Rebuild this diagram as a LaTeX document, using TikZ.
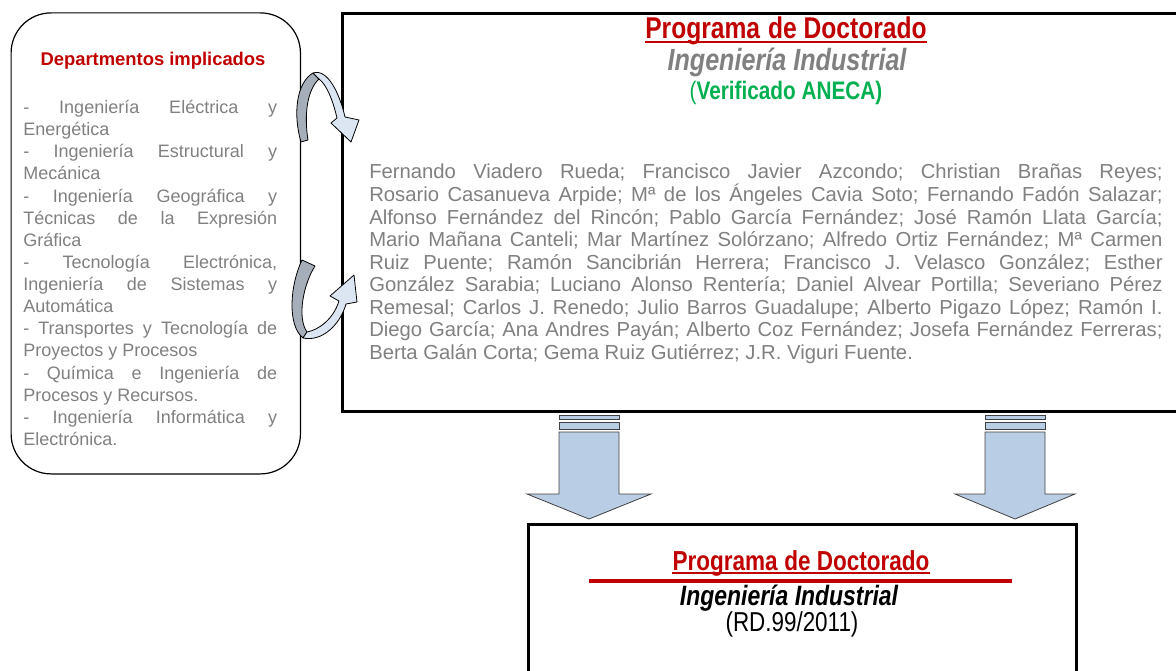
\documentclass[tikz,border=0pt]{standalone}
\usepackage{fontspec}
\setmainfont{Liberation Sans}
\newfontfamily\narrowfont[FakeStretch=0.82]{Liberation Sans}
\definecolor{titlered}{HTML}{C00000}
\definecolor{anecagreen}{HTML}{00B050}
\definecolor{textgray}{HTML}{808080}
\definecolor{arrowblue}{HTML}{B9CDE5}
\definecolor{curvefront}{HTML}{DCE6F2}
\definecolor{curveback}{HTML}{A6AEB9}
\tikzset{
  deptbox/.style={draw, line width=0.9pt, rounded corners=30pt, anchor=north west, minimum width=217pt, minimum height=345.75pt},
  mainbox/.style={draw, line width=2.4pt, anchor=north west},
  ntitle/.style={inner sep=0pt, font={\narrowfont\bfseries\fontsize{#1}{#1}\selectfont}},
  blockarrow/.style={draw=black!75, line width=0.6pt, fill=arrowblue},
  curvearrow/.style={draw=black, line width=0.6pt, line join=round},
}
\begin{document}
\begin{tikzpicture}[x=0.75pt, y=-0.75pt]
  \path[use as bounding box] (0,0) rectangle (1176,670);
  \clip (0,0) rectangle (1176,670);
  % boxes
  \node[deptbox] (dept) at (10.5,12.3) {};
  \node[mainbox, minimum width=650pt, minimum height=298.5pt] (prog) at (341,12) {};
  \node[mainbox, minimum width=411pt, minimum height=140pt] (rd) at (527,523) {};
  % departments
  \node[inner sep=0pt, text=titlered, font={\bfseries\fontsize{13.8pt}{16pt}\selectfont}] (depttitle) at (153,61) {Departmentos implicados};
  \node[anchor=north west, inner sep=0pt, text width=190.5pt, align=justify, text=textgray,
        font={\fontsize{13.5pt}{16.6pt}\selectfont}] (deptlist) at (23,100) {%
    - Ingeniería Eléctrica y\linebreak Energética\\
    - Ingeniería Estructural y\linebreak Mecánica\\
    - Ingeniería Geográfica y\linebreak Técnicas de la Expresión\linebreak Gráfica\\
    - Tecnología Electrónica,\linebreak Ingeniería de Sistemas y\linebreak Automática\\
    - Transportes y Tecnología de\linebreak Proyectos y Procesos\\
    - Química e Ingeniería de\linebreak Procesos y Recursos.\\
    - Ingeniería Informática y\linebreak Electrónica.};
  % verified programme
  \node[ntitle=22.5pt, text=titlered] (progtitle) at (786,31) {Programa\hspace{6pt}de Doctorado};
  \draw[titlered, line width=1.5pt] ([yshift=-2.5pt]progtitle.base west) -- ([yshift=-2.5pt]progtitle.base east);
  \node[ntitle=23pt, text=textgray] (progname) at (787,62) {\itshape Ingeniería Industrial};
  \node[ntitle=19pt, text=anecagreen] (aneca) at (786,93) {{\mdseries(}Verificado ANECA)};
  \node[anchor=north west, inner sep=0pt, text width=595pt, align=justify, text=textgray,
        font={\fontsize{15.2pt}{16.9pt}\selectfont\frenchspacing}] (names) at (369,164) {%
    Fernando Viadero Rueda; Francisco Javier Azcondo; Christian Brañas Reyes;\linebreak
    Rosario Casanueva Arpide; Mª de los Ángeles Cavia Soto; Fernando Fadón Salazar;\linebreak
    Alfonso Fernández del Rincón; Pablo García Fernández; José Ramón Llata García;\linebreak
    Mario Mañana Canteli; Mar Martínez Solórzano; Alfredo Ortiz Fernández; Mª Carmen\linebreak
    Ruiz Puente; Ramón Sancibrián Herrera; Francisco J. Velasco González; Esther\linebreak
    González Sarabia; Luciano Alonso Rentería; Daniel Alvear Portilla; Severiano Pérez\linebreak
    Remesal; Carlos J. Renedo; Julio Barros Guadalupe; Alberto Pigazo López; Ramón I.\linebreak
    Diego García; Ana Andres Payán; Alberto Coz Fernández; Josefa Fernández Ferreras;\linebreak
    Berta Galán Corta; Gema Ruiz Gutiérrez; J.R. Viguri Fuente.};
  % RD programme
  \node[ntitle=20.6pt, text=titlered] (rdtitle) at (801,563) {Programa\hspace{5pt}de Doctorado};
  \draw[titlered, line width=1.2pt] ([yshift=-2pt]rdtitle.base west) -- ([yshift=-2pt]rdtitle.base east);
  \coordinate (rule l) at (589,581);
  \coordinate (rule r) at (1012,581);
  \draw[titlered, line width=2.4pt] (rule l) -- (rule r);
  \node[ntitle=21pt] (rdname) at (789,598) {\itshape Ingeniería Industrial};
  \node[inner sep=0pt, font={\narrowfont\fontsize{20.5pt}{21pt}\selectfont}] (rdref) at (792,624) {(RD.99/2011)};
  % block arrows
  \foreach \cx/\hw in {589/62, 1015/60} {
    \draw[blockarrow] (\cx-30,415.7) rectangle (\cx+30,419.3);
    \draw[blockarrow] (\cx-30,422.7) rectangle (\cx+30,429);
    \draw[blockarrow] (\cx-30,432) -- (\cx+30,432) -- (\cx+30,494) -- (\cx+\hw,494)
      -- (\cx,519) -- (\cx-\hw,494) -- (\cx-30,494) -- cycle;
  }
  % curved arrows
  \draw[curvearrow, fill=curveback] (301,142) .. controls (293,115) and (296,83) .. (313,73)
    -- (319,79) .. controls (307,90) and (304,115) .. (308,140) -- cycle;
  \draw[curvearrow, fill=curvefront] (313,73) .. controls (328,68) and (340,95) .. (345,117)
    -- (359,120) -- (351,142) -- (331,123) -- (337,118) .. controls (333,101) and (327,85) .. (319,79) -- cycle;
  \draw[curvearrow, fill=curveback] (302,260) -- (315,266) .. controls (303,285) and (297,318) .. (307,332)
    -- (303,338) .. controls (287,325) and (290,285) .. (302,260) -- cycle;
  \draw[curvearrow, fill=curvefront] (303,338) .. controls (322,342) and (340,325) .. (346,304)
    -- (357,302) -- (354,275) -- (330,296) -- (339,301) .. controls (333,320) and (318,330) .. (307,332) -- cycle;
\end{tikzpicture}
\end{document}
